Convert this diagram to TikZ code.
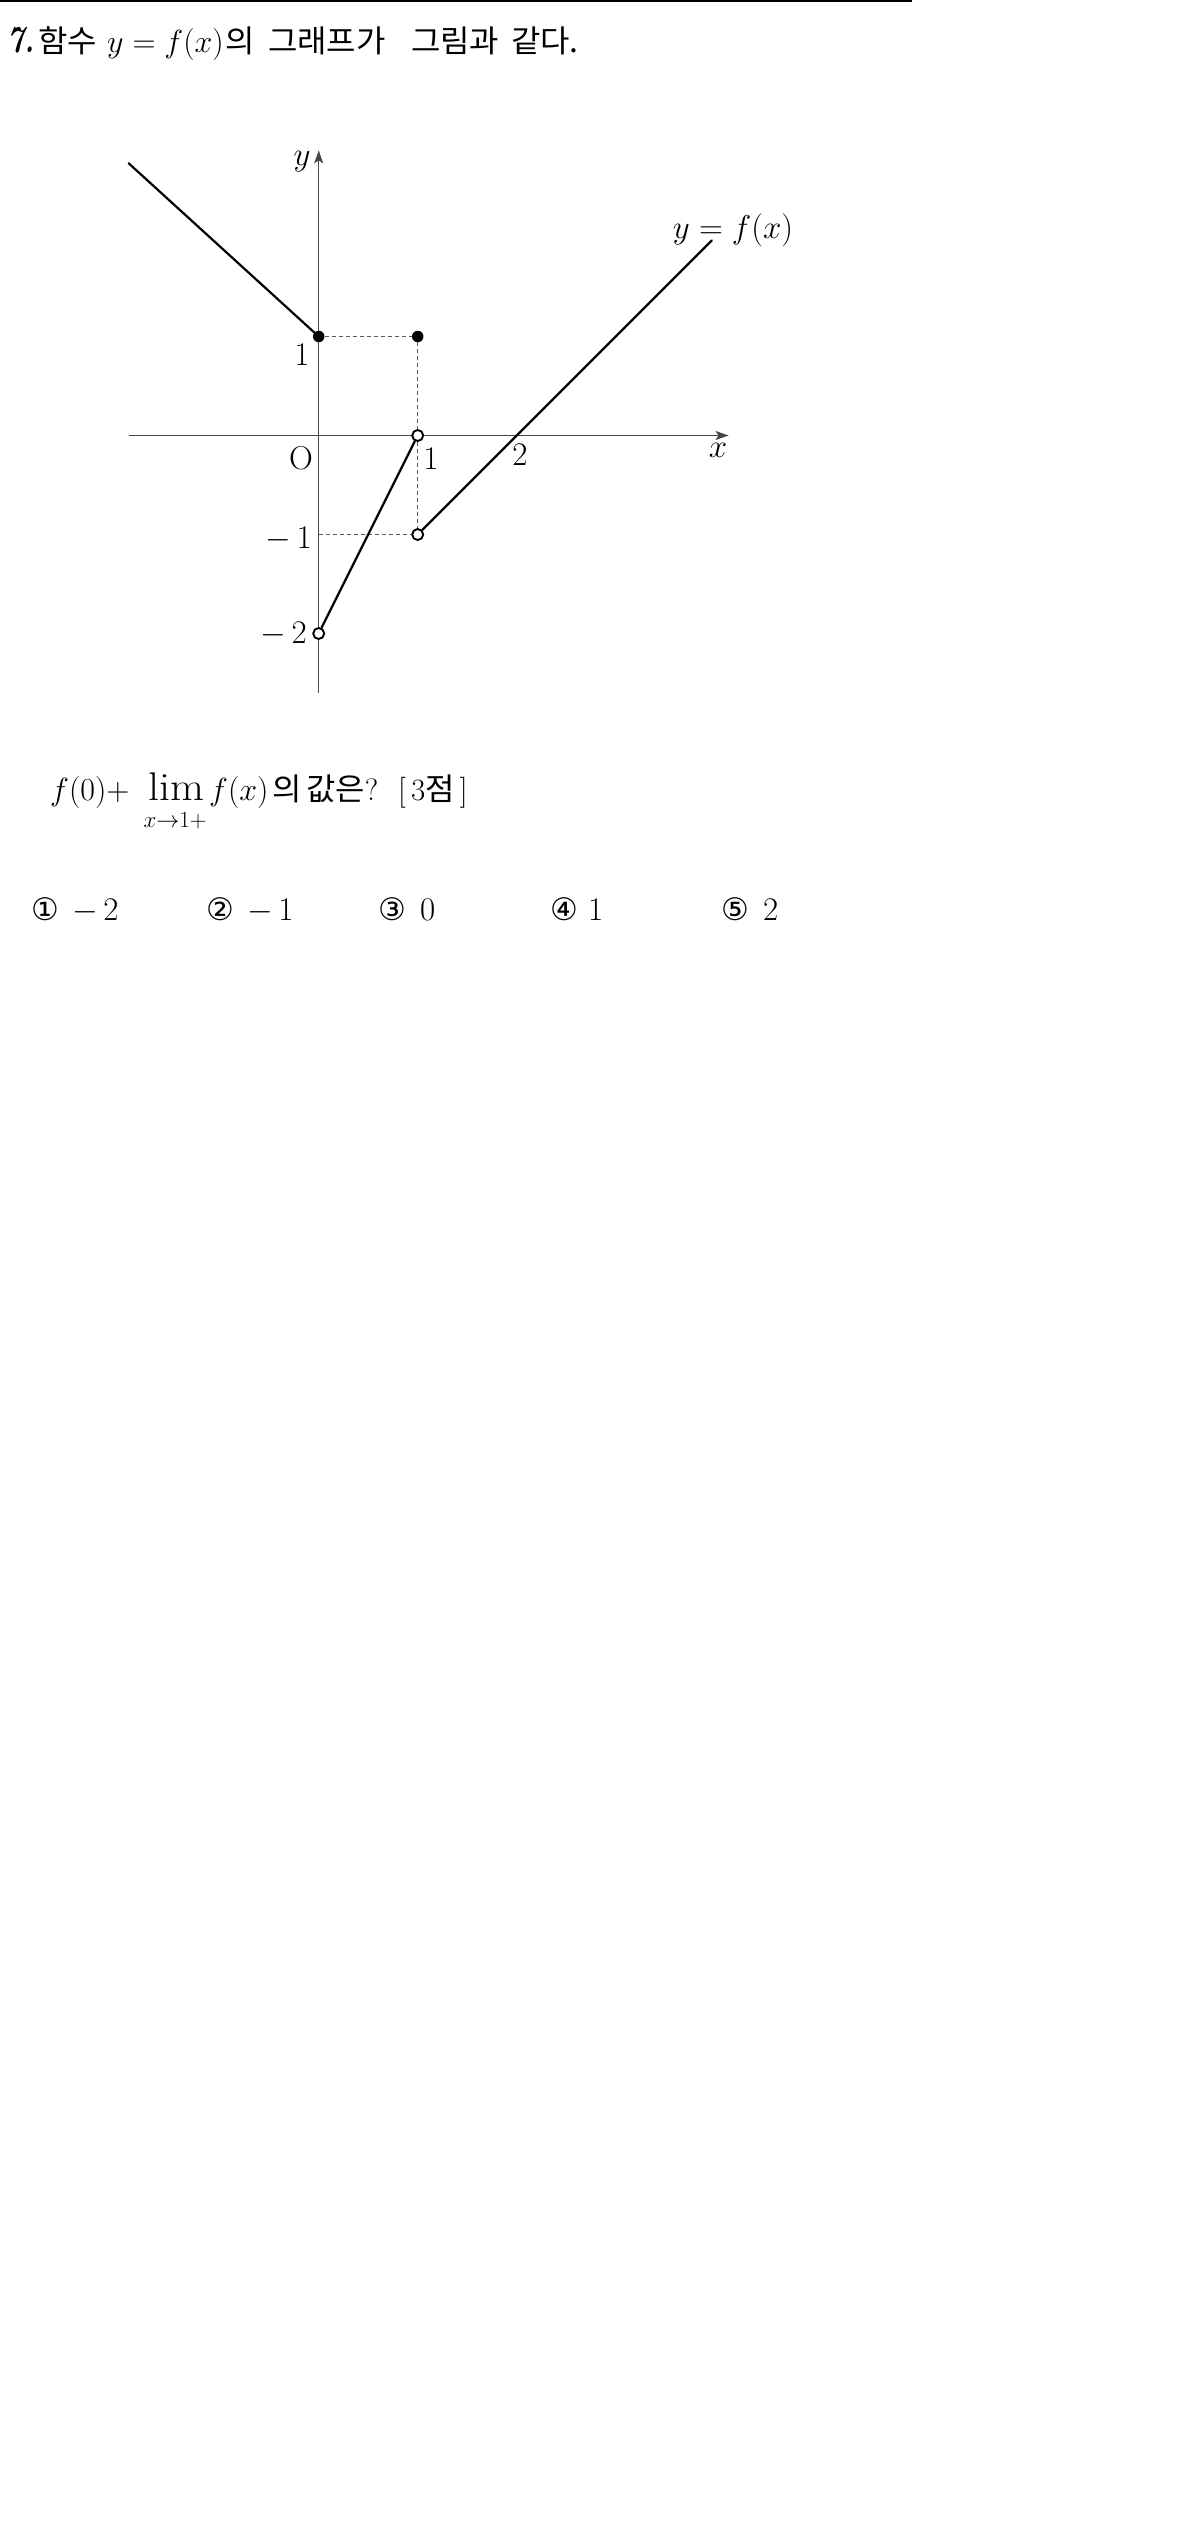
\RequirePackage{fix-cm}
\documentclass[tikz,border=0pt]{standalone}
\usepackage{fontspec}
\usepackage{graphicx}
\newfontfamily\kr[FakeStretch=1.03]{Noto Sans CJK KR}
\newfontfamily\dv{DejaVu Sans}
\usetikzlibrary{arrows.meta}
\tikzset{
  lbl/.style={inner sep=0pt, font=\fontsize{33}{40}\selectfont},
  kor/.style={inner sep=0pt, font=\fontsize{31}{36}\selectfont\kr},
  mth/.style={inner sep=0pt, font=\fontsize{32}{38}\selectfont},
  chv/.style={inner sep=0pt, font=\fontsize{33}{40}\selectfont},
  chn/.style={inner sep=0pt, font=\fontsize{31}{36}\selectfont\dv},
  fn/.style={line width=2.2pt, line cap=round},
  ax/.style={line width=1.4pt, draw=black!72},
  dsh/.style={line width=1pt, draw=black!65, dash pattern=on 4pt off 3pt},
  fdot/.style={circle, fill=black, inner sep=0pt, minimum size=11.5pt},
  odot/.style={circle, draw=black, fill=white, line width=1.9pt, inner sep=0pt, minimum size=11pt},
  arr/.style={-{Stealth[length=13pt,width=9pt,inset=3pt]}}
}
\begin{document}
\begin{tikzpicture}[x=1pt,y=-1pt]
\useasboundingbox (0,0) rectangle (1182,2545);
% top rule
\coordinate (r0) at (0,1);
\coordinate (r1) at (911.7,1);
\draw[line width=2pt] (r0) -- (r1);
% title
\node[inner sep=0pt, anchor=base west, font=\fontsize{38}{44}\selectfont] (t0) at (7,53) {\scalebox{0.75}[1]{\textbf{\textit{7.}}}};
\node[kor, anchor=base west] (t1) at (38,53) {함수};
\node[mth, anchor=base west] (t2) at (107,53) {$y=f(x)$};
\node[kor, anchor=base west] (t3) at (225,53) {의};
\node[kor, anchor=base west] (t4) at (268,53) {그래프가};
\node[kor, anchor=base west] (t5) at (411,53) {그림과};
\node[kor, anchor=base west] (t6) at (511,53) {같다.};
% graph
\begin{scope}[shift={(318.7,435.5)}, x=99pt, y=99pt]
  \coordinate (xl) at (-1.92,0);
  \coordinate (xr) at (4.14,0);
  \coordinate (yb) at (0,-2.6);
  \coordinate (yt) at (0,2.88);
  \draw[ax, arr] (xl) -- (xr);
  \draw[ax, arr] (yb) -- (yt);
  \coordinate (m1) at (0,-1);
  \coordinate (lstart) at (-1.92,2.75);
  \coordinate (rend) at (3.97,1.97);
  \node[fdot] (fA) at (0,1) {};
  \node[fdot] (fB) at (1,1) {};
  \node[odot] (oA) at (1,0) {};
  \node[odot] (oB) at (1,-1) {};
  \node[odot] (oC) at (0,-2) {};
  \draw[dsh] (fA) -- (fB);
  \draw[dsh] (fB) -- (oA);
  \draw[dsh] (oA) -- (oB);
  \draw[dsh] (m1) -- (oB);
  \draw[fn] (lstart) -- (fA.center);
  \draw[fn] (oC) -- (oA);
  \draw[fn] (oB) -- (rend);
\end{scope}
% graph labels
\node[lbl, anchor=base] (ly) at (302,165) {$y$};
\node[lbl, anchor=base] (lx) at (718,457) {$x$};
\node[lbl, anchor=base] (lf) at (733,238) {$y=f(x)$};
\node[lbl, anchor=base] (ly1) at (302,365) {1};
\node[lbl, anchor=base] (lO) at (301,469) {O};
\node[lbl, anchor=base] (lx1) at (431,469) {1};
\node[lbl, anchor=base] (lx2) at (520,465) {2};
\node[lbl, anchor=base east] (lym1) at (312,548) {$-\,1$};
\node[lbl, anchor=base east] (lym2) at (307,643) {$-\,2$};
% question line
\node[mth, anchor=base west] (q1) at (50,800) {$f(0)+$};
\node[inner sep=0pt, anchor=base, font=\fontsize{40}{48}\selectfont] (q2) at (176,800) {\scalebox{1.1}[1]{lim}};
\node[inner sep=0pt, anchor=base, font=\fontsize{23}{28}\selectfont] (q3) at (175,827) {$x{\to}1{+}$};
\node[mth, anchor=base west] (q4) at (209,800) {$f(x)$};
\node[kor, anchor=base west] (q5) at (272,800) {의};
\node[kor, anchor=base west] (q6) at (306,800) {값은{\rmfamily ?}};
\node[kor, anchor=base west] (q7) at (398,800) {{\rmfamily[\,3}점{\rmfamily\,]}};
% choices
\node[chn, anchor=base west] (c1) at (31,920.7) {①};
\node[chv, anchor=base west] (v1) at (72,920.7) {$-\,2$};
\node[chn, anchor=base west] (c2) at (206,920.7) {②};
\node[chv, anchor=base west] (v2) at (247,920.7) {$-\,1$};
\node[chn, anchor=base west] (c3) at (378,920.7) {③};
\node[chv, anchor=base west] (v3) at (420,920.7) {0};
\node[chn, anchor=base west] (c4) at (550,920.7) {④};
\node[chv, anchor=base west] (v4) at (588,920.7) {1};
\node[chn, anchor=base west] (c5) at (721,920.7) {⑤};
\node[chv, anchor=base west] (v5) at (763,920.7) {2};
\end{tikzpicture}
\end{document}
